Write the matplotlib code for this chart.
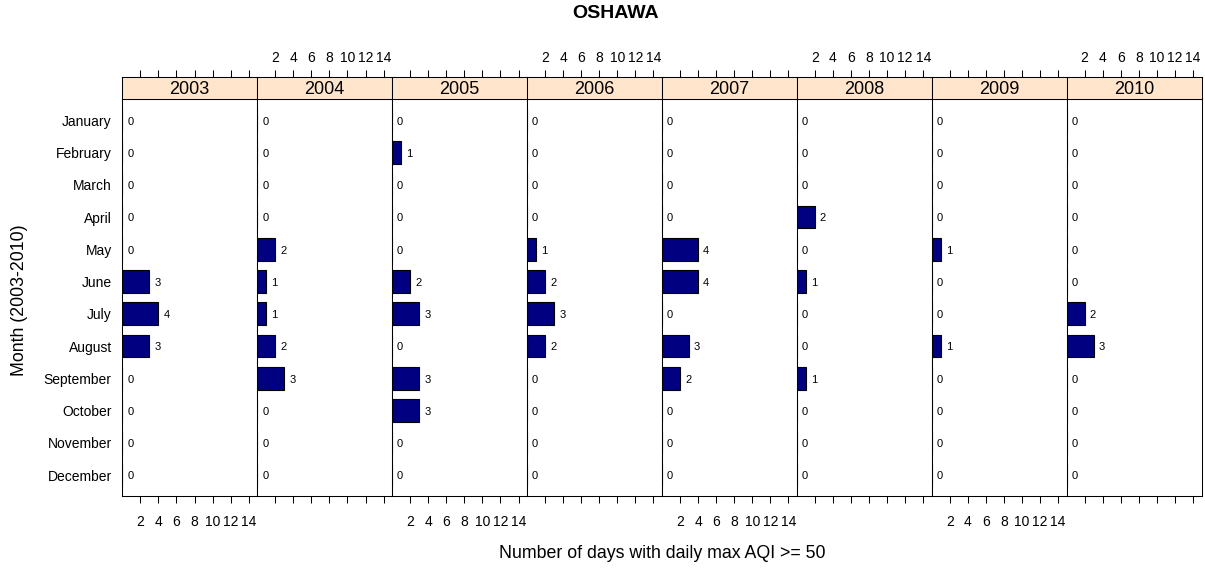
import matplotlib
matplotlib.use('Agg')
import matplotlib.pyplot as plt

plt.rcParams['font.family'] = ['Liberation Sans', 'DejaVu Sans']

months = ["January", "February", "March", "April", "May", "June", "July",
          "August", "September", "October", "November", "December"]
years = ["2003", "2004", "2005", "2006", "2007", "2008", "2009", "2010"]

days_2003 = [0, 0, 0, 0, 0, 3, 4, 3, 0, 0, 0, 0]
days_2004 = [0, 0, 0, 0, 2, 1, 1, 2, 3, 0, 0, 0]
days_2005 = [0, 1, 0, 0, 0, 2, 3, 0, 3, 3, 0, 0]
days_2006 = [0, 0, 0, 0, 1, 2, 3, 2, 0, 0, 0, 0]
days_2007 = [0, 0, 0, 0, 4, 4, 0, 3, 2, 0, 0, 0]
days_2008 = [0, 0, 0, 2, 0, 1, 0, 0, 1, 0, 0, 0]
days_2009 = [0, 0, 0, 0, 1, 0, 0, 1, 0, 0, 0, 0]
days_2010 = [0, 0, 0, 0, 0, 0, 2, 3, 0, 0, 0, 0]
series = [days_2003, days_2004, days_2005, days_2006,
          days_2007, days_2008, days_2009, days_2010]

x_ticks = [2, 4, 6, 8, 10, 12, 14]

W, H = 1205, 568
fig = plt.figure(figsize=(W / 100, H / 100), dpi=100)

left, right = 122.3, 1201.5
strip_top, strip_bot, panel_bot = 77.3, 99.3, 496.0
pw = (right - left) / 8
lw = 0.75
bar_color = '#000080'
strip_color = '#FFE5CC'
xlim = (0, 14.94)

for i, (yr, vals) in enumerate(zip(years, series)):
    x0 = left + i * pw
    ax = fig.add_axes([x0 / W, (H - panel_bot) / H, pw / W, (panel_bot - strip_bot) / H])
    sax = fig.add_axes([x0 / W, (H - strip_bot) / H, pw / W, (strip_bot - strip_top) / H])

    ypos = list(range(1, len(months) + 1))
    ax.barh(ypos, vals, height=0.7, color=bar_color, edgecolor='black', linewidth=0.8)
    for y, v in zip(ypos, vals):
        ax.annotate(str(v), (v, y), xytext=(3.6, -1.0), textcoords='offset points',
                    ha='left', va='center', fontsize=8)
    ax.set_xlim(*xlim)
    ax.set_ylim(12.65, 0.35)
    for sp in ax.spines.values():
        sp.set_linewidth(lw)

    ax.set_xticks(x_ticks)
    ax.tick_params(axis='x', direction='out', length=5, width=lw, bottom=True, top=False,
                   labelsize=10, pad=8.4, labelbottom=(i % 2 == 0))
    ax.set_yticks(ypos)
    if i == 0:
        ax.set_yticklabels(months, fontsize=10)
        ax.tick_params(axis='y', length=0, pad=7.6)
    else:
        ax.tick_params(axis='y', length=0, labelleft=False)

    # strip
    sax.set_facecolor(strip_color)
    sax.set_xlim(*xlim)
    sax.set_ylim(0, 1)
    sax.set_yticks([])
    sax.set_xticks(x_ticks)
    sax.tick_params(axis='x', direction='out', length=5, width=lw, bottom=False, top=True,
                    labelbottom=False, labeltop=(i % 2 == 1), labelsize=10, pad=4.2)
    for sp in sax.spines.values():
        sp.set_linewidth(lw)
    sax.text(0.5, 0.45, yr, transform=sax.transAxes, ha='center', va='center', fontsize=13)

fig.text(616 / W, 1 - 13.5 / H, "OSHAWA", ha='center', va='center',
         fontsize=14, fontweight='bold')
fig.text(662 / W, 1 - 554 / H, "Number of days with daily max AQI >= 50",
         ha='center', va='center', fontsize=12.8)
fig.text(20 / W, 1 - 300 / H, "Month (2003-2010)", ha='center', va='center',
         rotation=90, fontsize=12.8)

fig.savefig("out.png", dpi=100)
